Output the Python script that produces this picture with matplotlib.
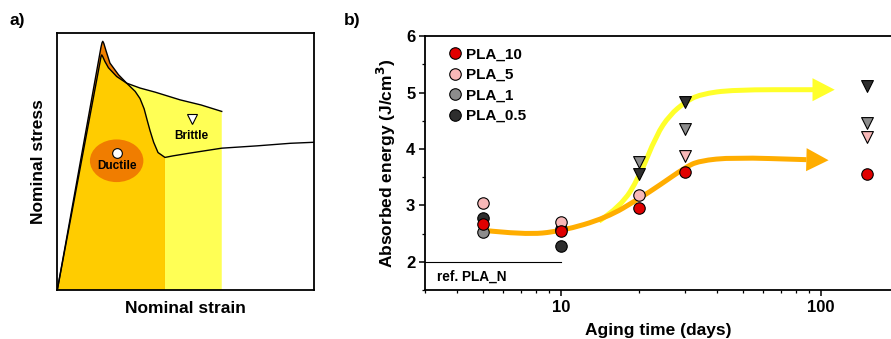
import numpy as np
import matplotlib
matplotlib.use("Agg")
import matplotlib.pyplot as plt
from matplotlib.patches import Polygon, Ellipse, FancyArrowPatch, ArrowStyle, PathPatch
from matplotlib.path import Path
from matplotlib.lines import Line2D

plt.rcParams['font.family'] = ['Liberation Sans', 'DejaVu Sans']
plt.rcParams['font.weight'] = 'bold'

# ---- panel a: schematic stress-strain curves (axes fraction units) ----
ductile_x = [0.0, 0.170, 0.174, 0.177, 0.181, 0.190, 0.205, 0.238, 0.270, 0.303, 0.322,
             0.338, 0.350, 0.361, 0.375, 0.392, 0.419, 0.45, 0.517, 0.640, 0.777, 0.907, 1.0]
ductile_y = [0.0, 0.945, 0.962, 0.968, 0.960, 0.930, 0.883, 0.838, 0.805, 0.773, 0.745,
             0.705, 0.660, 0.620, 0.575, 0.535, 0.516, 0.522, 0.533, 0.552, 0.561, 0.571, 0.575]
brittle_x = [0.0, 0.167, 0.170, 0.173, 0.177, 0.185, 0.199, 0.231, 0.270, 0.322, 0.381,
             0.478, 0.560, 0.640]
brittle_y = [0.0, 0.890, 0.908, 0.915, 0.908, 0.890, 0.865, 0.831, 0.805, 0.786, 0.770,
             0.740, 0.720, 0.695]
cross_d = 8     # index of the crossing point in ductile lists
cross_b = 8     # index of the crossing point in brittle lists
ductile_end = 16  # ductile region ends at x = 0.419

# ---- panel b: absorbed energy vs aging time ----
aging_days = [5, 10, 20, 30, 150]
series_names = ['PLA_10', 'PLA_5', 'PLA_1', 'PLA_0.5']
series_colors = ['#e00000', '#f8b8b8', '#8c8c8c', '#2e2e2e']
pla_10 = [2.67, 2.54, 2.95, 3.60, 3.55]
pla_5 = [3.04, 2.70, 3.19, 3.88, 4.22]
pla_1 = [2.52, 2.58, 3.77, 4.36, 4.46]
pla_05 = [2.78, 2.28, 3.56, 4.84, 5.11]
# True -> brittle (triangle), False -> ductile (circle)
brit_10 = [False, False, False, False, False]
brit_5 = [False, False, False, True, True]
brit_1 = [False, False, True, True, True]
brit_05 = [False, False, True, True, True]

# guide arrows drawn by hand on the chart (last point = arrow tip)
orange_x = [5, 7.2, 10, 15, 20, 24, 30, 34, 46, 88, 107]
orange_y = [2.56, 2.48, 2.54, 2.78, 3.12, 3.36, 3.67, 3.79, 3.85, 3.81, 3.80]
yellow_x = [14, 17, 20, 23.3, 26.2, 30, 34.3, 46, 93.5, 113]
yellow_y = [2.72, 2.98, 3.50, 4.25, 4.60, 4.83, 4.97, 5.05, 5.05, 5.05]

ref_y = 2.0


def smooth_path(xs, ys):
    pts = list(zip(xs, ys))
    verts = [pts[0]]
    codes = [Path.MOVETO]
    for i in range(1, len(pts) - 1):
        p, q = pts[i], pts[i + 1]
        verts += [p, ((p[0] * q[0]) ** 0.5, (p[1] + q[1]) / 2)]
        codes += [Path.CURVE3, Path.CURVE3]
    verts.append(pts[-1])
    codes.append(Path.LINETO)
    return Path(verts, codes)


fig = plt.figure(figsize=(8.91, 3.39), dpi=100)

# ================= panel a =================
ax1 = fig.add_axes([0.0643, 0.1445, 0.2884, 0.758])
ax1.set_xlim(0, 1)
ax1.set_ylim(0, 1)
ax1.set_xticks([])
ax1.set_yticks([])
for s in ax1.spines.values():
    s.set_linewidth(1.3)

d = list(zip(ductile_x, ductile_y))
b = list(zip(brittle_x, brittle_y))
ax1.add_patch(Polygon(b + [(brittle_x[-1], 0)], closed=True, fc='#ffff55', ec='none'))
ax1.add_patch(Polygon(d[:ductile_end + 1] + [(ductile_x[ductile_end], 0)], closed=True,
                      fc='#f08000', ec='none'))
ax1.add_patch(Polygon(b[:cross_b + 1] + d[cross_d + 1:ductile_end + 1] + [(ductile_x[ductile_end], 0)],
                      closed=True, fc='#ffcc00', ec='none'))
ax1.plot(ductile_x, ductile_y, color='black', lw=1.0, solid_joinstyle='round')
ax1.plot(brittle_x, brittle_y, color='black', lw=1.0, solid_joinstyle='round')

ax1.add_patch(Ellipse((0.231, 0.503), 0.208, 0.166, fc='#f07d00', ec='none'))
ax1.plot([0.234], [0.535], 'o', ms=7, mfc='white', mec='black', mew=0.8)
ax1.text(0.234, 0.483, 'Ductile', ha='center', va='center', fontsize=8.5, fontweight='bold')
ax1.plot([0.523], [0.666], 'v', ms=7.5, mfc='white', mec='black', mew=0.8)
ax1.text(0.523, 0.601, 'Brittle', ha='center', va='center', fontsize=8.5, fontweight='bold')
ax1.set_xlabel('Nominal strain', fontsize=12.5, fontweight='bold', labelpad=8)
ax1.set_ylabel('Nominal stress', fontsize=12.5, fontweight='bold', labelpad=8)

fig.text(0.011, 0.94, 'a)', fontsize=12.5, fontweight='bold', va='center')
fig.text(0.386, 0.94, 'b)', fontsize=12.5, fontweight='bold', va='center')

# ================= panel b =================
ax2 = fig.add_axes([0.477, 0.1445, 0.523, 0.749])
ax2.set_xscale('log')
ax2.set_xlim(3, 186)
ax2.set_ylim(1.5, 6)
ax2.spines['right'].set_visible(False)
for s in ['left', 'bottom', 'top']:
    ax2.spines[s].set_linewidth(1.3)
ax2.set_yticks([2, 3, 4, 5, 6])
ax2.set_yticks([1.5, 2.5, 3.5, 4.5, 5.5], minor=True)
ax2.set_xticks([10, 100])
ax2.set_xticklabels(['10', '100'])
ax2.tick_params(which='major', length=4, width=1.1, labelsize=12, pad=3)
ax2.tick_params(which='minor', length=2.5, width=0.9)
for lab in ax2.get_xticklabels() + ax2.get_yticklabels():
    lab.set_fontweight('bold')

ax2.plot([3, 10], [ref_y, ref_y], color='black', lw=0.8)
ax2.text(3.35, 1.73, 'ref. PLA_N', fontsize=9.8, fontweight='bold', va='center')

# guide arrows: yellow under orange
for xs, ys, col in [(yellow_x, yellow_y, '#ffff2a'), (orange_x, orange_y, '#ffad00')]:
    ax2.add_patch(PathPatch(smooth_path(xs[:-1], ys[:-1]), fill=False, ec=col, lw=3.6,
                            capstyle='butt', zorder=2))
    ax2.add_patch(FancyArrowPatch((xs[-2], ys[-2]), (xs[-1], ys[-1]),
                                  arrowstyle=ArrowStyle('-|>', head_length=16, head_width=8.3),
                                  mutation_scale=1, shrinkA=0, shrinkB=0, lw=0, color=col, zorder=2))

# data markers
all_vals = [pla_05, pla_1, pla_5, pla_10]
all_brit = [brit_05, brit_1, brit_5, brit_10]
all_cols = series_colors[::-1]
for vals, brit, col in zip(all_vals, all_brit, all_cols):
    xc = [t for t, bb in zip(aging_days, brit) if not bb]
    yc = [v for v, bb in zip(vals, brit) if not bb]
    xt = [t for t, bb in zip(aging_days, brit) if bb]
    yt = [v for v, bb in zip(vals, brit) if bb]
    ax2.scatter(xc, yc, s=68, marker='o', c=col, edgecolors='black', linewidths=0.8, zorder=3)
    ax2.scatter(xt, yt, s=72, marker='v', c=col, edgecolors='black', linewidths=0.8, zorder=3)

handles = [Line2D([], [], ls='none', marker='o', ms=8.3, mfc=c, mec='black', mew=0.8)
           for c in series_colors]
ax2.legend(handles, series_names, loc='upper left', bbox_to_anchor=(0.038, 0.978), frameon=False,
           prop={'weight': 'bold', 'size': 11}, handlelength=0.8, handletextpad=0.35,
           labelspacing=0.42, borderaxespad=0)

ax2.set_xlabel('Aging time (days)', fontsize=12.5, fontweight='bold', labelpad=6)
ax2.set_ylabel('Absorbed energy (J/cm$^\\mathbf{3}$)', fontsize=12.5, fontweight='bold', labelpad=6)

fig.savefig('out.png', dpi=100)
